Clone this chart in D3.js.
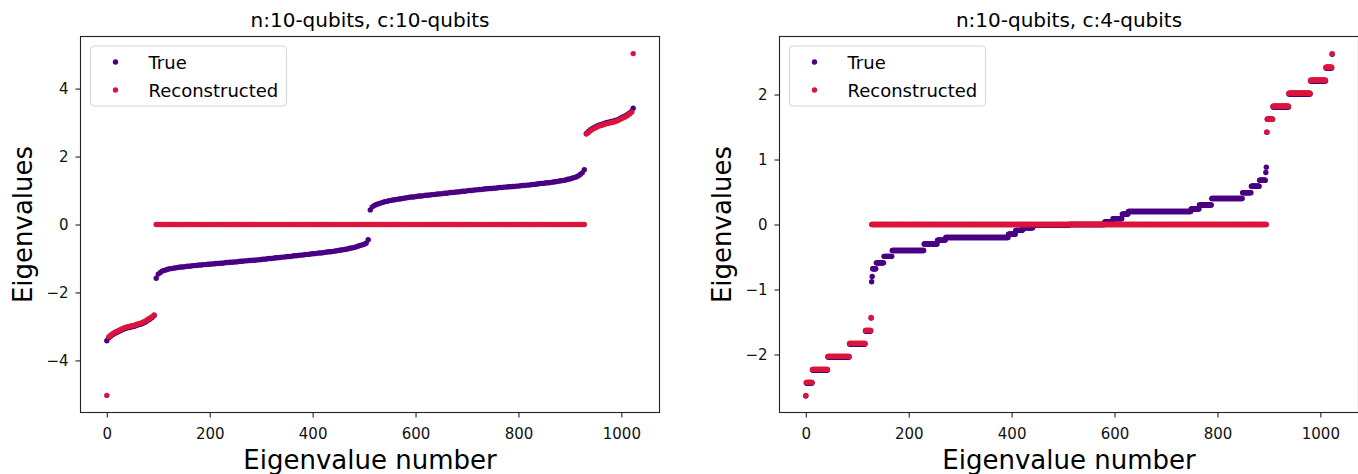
<!DOCTYPE html>
<html>
<head>
<meta charset="utf-8">
<script src="https://cdn.jsdelivr.net/npm/d3@7"></script>
<style>
  body { margin: 0; background: #fff; }
  svg { font-family: "DejaVu Sans", sans-serif; }
</style>
</head>
<body>
<div id="chart"></div>
<script>
// ---- data ----
// left panel: eigenvalue numbers (every 4th one, plus the last)
var leftIndex = d3.range(0, 1024, 4).concat([1023]);

var leftTrue = [
  -3.42,-3.33,-3.28,-3.24,-3.20,-3.17,-3.14,-3.11,-3.08,-3.06,-3.04,-3.03,-3.01,-3.00,-2.98,-2.96,-2.94,-2.92,-2.89,-2.86,-2.82,-2.78,-2.74,-2.68,
  -1.58,-1.46,-1.41,-1.37,-1.35,-1.33,-1.31,-1.30,-1.29,-1.28,-1.27,-1.26,-1.25,-1.25,-1.24,-1.23,-1.23,-1.22,-1.21,-1.21,-1.20,-1.19,-1.19,-1.18,-1.18,-1.17,
  -1.17,-1.16,-1.16,-1.15,-1.15,-1.14,-1.14,-1.13,-1.12,-1.12,-1.11,-1.11,-1.10,-1.10,-1.09,-1.08,-1.08,-1.07,-1.07,-1.06,-1.06,-1.05,-1.05,-1.04,-1.04,
  -1.03,-1.02,-1.02,-1.01,-1.00,-1.00,-0.99,-0.98,-0.98,-0.97,-0.96,-0.96,-0.95,-0.94,-0.94,-0.93,-0.92,-0.92,-0.91,-0.90,-0.90,-0.89,-0.88,-0.88,-0.87,
  -0.86,-0.86,-0.85,-0.84,-0.84,-0.83,-0.82,-0.81,-0.80,-0.80,-0.79,-0.78,-0.77,-0.76,-0.75,-0.74,-0.73,-0.72,-0.70,-0.69,-0.68,-0.66,-0.64,-0.62,-0.60,-0.58,-0.55,-0.45,
  0.43,0.52,0.56,0.59,0.61,0.63,0.65,0.67,0.68,0.70,0.71,0.72,0.73,0.74,0.75,0.76,0.77,0.78,0.79,0.80,0.81,0.81,0.82,0.83,0.84,
  0.84,0.85,0.86,0.86,0.87,0.88,0.88,0.89,0.90,0.90,0.91,0.92,0.92,0.93,0.94,0.94,0.95,0.96,0.96,0.97,0.98,0.98,0.99,1.00,1.00,
  1.01,1.02,1.02,1.03,1.03,1.04,1.05,1.05,1.06,1.06,1.07,1.07,1.08,1.09,1.09,1.10,1.10,1.11,1.11,1.12,1.12,1.13,1.13,1.14,1.15,
  1.15,1.16,1.16,1.17,1.18,1.18,1.19,1.20,1.21,1.21,1.22,1.23,1.23,1.24,1.25,1.26,1.27,1.28,1.29,1.30,1.31,1.33,1.34,1.36,1.38,
  1.40,1.43,1.47,1.52,1.61,
  2.68,2.74,2.79,2.83,2.86,2.89,2.92,2.94,2.96,2.98,3.00,3.01,3.03,3.04,3.06,3.08,3.11,3.14,3.17,3.20,3.24,3.28,3.33,
  3.42
];

var leftRecon = [
  -5.03,-3.30,-3.25,-3.21,-3.17,-3.14,-3.11,-3.08,-3.05,-3.03,-3.01,-3.00,-2.98,-2.97,-2.95,-2.93,-2.91,-2.89,-2.86,-2.83,-2.79,-2.75,-2.71,-2.66,
  0,0,0,0,0,0,0,0,0,0,0,0,0,0,0,0,0,0,0,0,
  0,0,0,0,0,0,0,0,0,0,0,0,0,0,0,0,0,0,0,0,
  0,0,0,0,0,0,0,0,0,0,0,0,0,0,0,0,0,0,0,0,
  0,0,0,0,0,0,0,0,0,0,0,0,0,0,0,0,0,0,0,0,
  0,0,0,0,0,0,0,0,0,0,0,0,0,0,0,0,0,0,0,0,
  0,0,0,0,0,0,0,0,0,0,0,0,0,0,0,0,0,0,0,0,
  0,0,0,0,0,0,0,0,0,0,0,0,0,0,0,0,0,0,0,0,
  0,0,0,0,0,0,0,0,0,0,0,0,0,0,0,0,0,0,0,0,
  0,0,0,0,0,0,0,0,0,0,0,0,0,0,0,0,0,0,0,0,
  0,0,0,0,0,0,0,0,0,0,0,0,0,0,0,0,0,0,0,0,
  0,0,0,0,0,0,0,0,0,
  2.66,2.71,2.76,2.80,2.83,2.86,2.89,2.91,2.93,2.95,2.97,2.98,3.00,3.01,3.03,3.05,3.08,3.11,3.14,3.17,3.21,3.25,3.30,
  5.03
];

// right panel: degenerate levels and how many eigenvalues sit on each
var rightTrueLevels = [-2.64,-2.44,-2.24,-2.04,-1.84,-1.64,-1.44,
  -0.88,-0.80,-0.68,-0.59,-0.49,-0.40,-0.30,-0.24,-0.20,-0.15,-0.09,-0.05,-0.01,
  0.00,0.04,0.09,0.16,0.20,0.24,0.30,0.40,0.49,0.59,0.68,0.80,0.88,
  1.42,1.62,1.81,2.01,2.21,2.41,2.62];
var rightTrueCounts = [1,12,30,42,31,11,1,
  1,1,7,15,16,62,26,16,122,14,14,20,70,
  69,16,18,12,122,16,24,60,17,16,12,1,1,
  1,11,31,42,30,12,1];

var rightReconLevels = [-2.63,-2.43,-2.23,-2.03,-1.83,-1.63,-1.43,0,1.42,1.62,1.82,2.02,2.22,2.42,2.63];
var rightReconCounts = [1,12,30,42,31,11,1,768,1,11,31,42,30,12,1];

var xTicks = [0, 200, 400, 600, 800, 1000];
var leftYTicks = [-4, -2, 0, 2, 4];
var rightYTicks = [-2, -1, 0, 1, 2];
var titles = ["n:10-qubits, c:10-qubits", "n:10-qubits, c:4-qubits"];
var seriesNames = ["True", "Reconstructed"];
var colors = ["#4b0082", "#dc143c"];

// ---- helpers ----
function zipPoints(idx, vals) {
  return idx.map(function(d, i) { return {i: d, v: vals[i]}; });
}
function expand(levels, counts) {
  var pts = [], k = 0;
  levels.forEach(function(v, i) {
    for (var j = 0; j < counts[i]; j++) { pts.push({i: k, v: v}); k++; }
  });
  return pts;
}

var W = 1358, H = 474;
var svg = d3.select("#chart").append("svg")
    .attr("width", W).attr("height", H);
svg.append("rect").attr("width", W).attr("height", H).attr("fill", "#fff");

var width = 579, height = 376;

function panel(left, series, ydom, yticks, title) {
  var g = svg.append("g")
      .attr("transform", "translate(" + left + "," + 36.5 + ")");

  var x = d3.scaleLinear().domain([-51.15, 1074.15]).range([0, width]);
  var y = d3.scaleLinear().domain(ydom).range([height, 0]);

  // points, True first then Reconstructed on top
  series.forEach(function(pts, s) {
    g.append("g").selectAll("circle")
      .data(pts)
      .enter().append("circle")
        .attr("cx", function(d) { return x(d.i); })
        .attr("cy", function(d) { return y(d.v); })
        .attr("r", 2.7)
        .attr("fill", colors[s]);
  });

  // axes
  var xa = g.append("g")
      .attr("transform", "translate(0," + height + ")")
      .call(d3.axisBottom(x).tickValues(xTicks).tickSize(5).tickPadding(11).tickFormat(d3.format("d")));
  var ya = g.append("g")
      .call(d3.axisLeft(y).tickValues(yticks).tickSize(5).tickPadding(7).tickFormat(d3.format("d")));
  [xa, ya].forEach(function(a) {
    a.select(".domain").remove();
    a.selectAll(".tick line").attr("stroke", "#222").attr("stroke-width", 1.1);
    a.selectAll(".tick text").attr("fill", "#111").style("font-size", "15px")
      .style("font-family", "'DejaVu Sans', sans-serif");
  });

  // frame
  g.append("rect")
      .attr("width", width).attr("height", height)
      .attr("fill", "none").attr("stroke", "#222").attr("stroke-width", 1.1);

  // title and labels
  g.append("text")
      .attr("x", width / 2).attr("y", -10)
      .attr("text-anchor", "middle")
      .style("font-size", "20px")
      .text(title);
  g.append("text")
      .attr("x", width / 2).attr("y", height + 56)
      .attr("text-anchor", "middle")
      .style("font-size", "26px")
      .text("Eigenvalue number");
  g.append("text")
      .attr("transform", "translate(-49," + height / 2 + ") rotate(-90)")
      .attr("text-anchor", "middle")
      .style("font-size", "26px")
      .text("Eigenvalues");

  // legend
  var lg = g.append("g").attr("transform", "translate(10,9.5)");
  lg.append("rect")
      .attr("width", 196).attr("height", 60).attr("rx", 4)
      .attr("fill", "#fff").attr("fill-opacity", 0.8)
      .attr("stroke", "#d6d6d6").attr("stroke-width", 1.1);
  seriesNames.forEach(function(name, s) {
    lg.append("circle")
        .attr("cx", 25).attr("cy", 16 + s * 28).attr("r", 2.7)
        .attr("fill", colors[s]);
    lg.append("text")
        .attr("x", 58).attr("y", 16 + s * 28 + 6.5)
        .style("font-size", "18px")
        .text(name);
  });
}

panel(80.5, [zipPoints(leftIndex, leftTrue), zipPoints(leftIndex, leftRecon)],
      [-5.533, 5.533], leftYTicks, titles[0]);
panel(779.5, [expand(rightTrueLevels, rightTrueCounts), expand(rightReconLevels, rightReconCounts)],
      [-2.893, 2.893], rightYTicks, titles[1]);
</script>
</body>
</html>
